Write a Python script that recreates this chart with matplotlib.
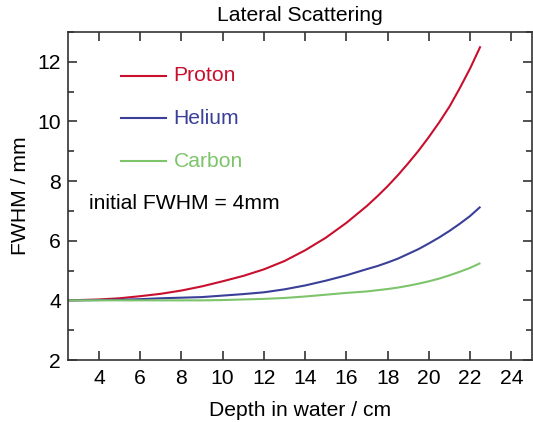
import matplotlib
matplotlib.use("Agg")
import matplotlib.pyplot as plt
from matplotlib.ticker import MultipleLocator

plt.rcParams['font.family'] = ['Liberation Sans', 'DejaVu Sans']

# Depth in water (cm) and beam width (FWHM, mm) for each ion species
depth = [2.5, 3, 4, 5, 6, 7, 8, 9, 10, 11, 12, 13, 14, 15, 16, 17, 17.5, 18, 18.5,
         19, 19.5, 20, 20.5, 21, 21.5, 22, 22.5]
proton = [4.00, 4.01, 4.03, 4.07, 4.14, 4.22, 4.33, 4.47, 4.64, 4.82, 5.04, 5.32,
          5.68, 6.10, 6.60, 7.17, 7.49, 7.83, 8.20, 8.60, 9.02, 9.48, 9.97, 10.50,
          11.12, 11.78, 12.52]
helium = [4.00, 4.00, 4.01, 4.02, 4.04, 4.07, 4.09, 4.11, 4.16, 4.21, 4.27, 4.37,
          4.50, 4.66, 4.84, 5.05, 5.15, 5.27, 5.40, 5.56, 5.72, 5.91, 6.11, 6.33,
          6.57, 6.83, 7.14]
carbon = [4.00, 4.00, 4.00, 4.00, 4.00, 4.00, 4.00, 4.00, 4.01, 4.03, 4.05, 4.08,
          4.13, 4.19, 4.25, 4.30, 4.34, 4.38, 4.43, 4.49, 4.56, 4.64, 4.73, 4.84,
          4.96, 5.09, 5.25]

series_names = ["Proton", "Helium", "Carbon"]
series_values = [proton, helium, carbon]
series_colors = ["#c8102e", "#3a3f98", "#7dc46b"]

FS = 15.2

fig = plt.figure(figsize=(5.33, 4.22), dpi=100)
ax = fig.add_axes([68 / 533, 1 - 360 / 422, (532 - 68) / 533, (360 - 32) / 422])

for name, vals, col in zip(series_names, series_values, series_colors):
    ax.plot(depth, vals, color=col, lw=1.5, solid_capstyle='butt')

ax.set_xlim(2.5, 25)
ax.set_ylim(2, 13)
ax.yaxis.set_major_locator(MultipleLocator(2))
ax.yaxis.set_minor_locator(MultipleLocator(1))
ax.set_xticks(range(4, 25, 2))

for s in ax.spines.values():
    s.set_color('#333333')
    s.set_linewidth(1.2)

ax.tick_params(axis='both', which='both', direction='in', top=True, right=True,
               color='#333333', width=1.2, labelsize=FS)
ax.tick_params(axis='x', which='major', length=6.3, pad=6.5)
ax.tick_params(axis='y', which='major', length=6.8, pad=5)
ax.tick_params(axis='y', which='minor', length=4)

ax.set_xlabel("Depth in water / cm", fontsize=FS, labelpad=9)
ax.set_ylabel("FWHM / mm", fontsize=FS, labelpad=5)
ax.set_title("Lateral Scattering", fontsize=FS, pad=8)

# hand-placed legend: short line sample followed by coloured label
legend_y = [11.53, 10.10, 8.66]
for name, col, yy in zip(series_names, series_colors, legend_y):
    ax.plot([5.06, 7.27], [yy, yy], color=col, lw=1.5)
    ax.text(7.62, yy, name, color=col, fontsize=FS, va='center', ha='left')

ax.text(3.5, 7.25, "initial FWHM = 4mm", fontsize=FS, va='center', ha='left')

fig.savefig("out.png", dpi=100)
